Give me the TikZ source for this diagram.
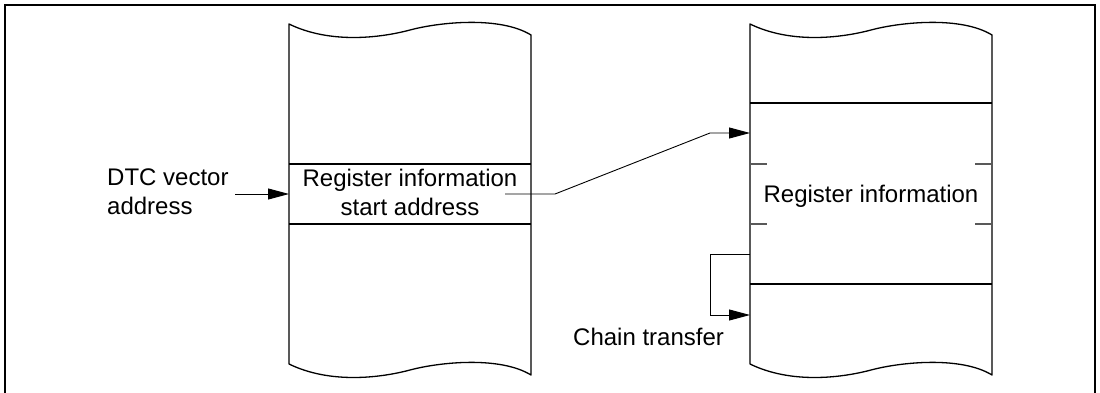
\documentclass[tikz,border=0pt]{standalone}
\usepackage{fontspec}
\setmainfont{Liberation Sans}
\usetikzlibrary{arrows.meta}
\tikzset{
  memcol/.style={line width=1.3pt, line join=round},
  sepline/.style={line width=1.2pt},
  gaptick/.style={line width=1.3pt, gray!70!black},
  ptr/.style={line width=0.9pt, -{Triangle[length=21pt,width=11pt]}},
  txt/.style={inner sep=0pt, font=\fontsize{24}{29}\selectfont}
}
\begin{document}
\begin{tikzpicture}[x=1pt, y=-1pt]
  \useasboundingbox (0,0) rectangle (1100,393);
  \draw[line width=1.6pt] (5,393) -- (5,5) -- (1095,5) -- (1095,393);
  \foreach \cx in {289,750} {
    \draw[memcol] (\cx,24) .. controls (\cx+41,44) and (\cx+91,38) .. (\cx+121,30)
      .. controls (\cx+151,22) and (\cx+211,16) .. (\cx+242,35) -- (\cx+242,375)
      .. controls (\cx+211,356) and (\cx+151,362) .. (\cx+121,370)
      .. controls (\cx+91,378) and (\cx+41,384) .. (\cx,364) -- cycle;
  }
  \draw[sepline] (289,164) -- (531,164);
  \draw[sepline] (289,224) -- (531,224);
  \draw[sepline] (750,103) -- (992,103);
  \draw[sepline] (750,284) -- (992,284);
  \foreach \ty in {164,224} {
    \draw[gaptick] (750,\ty) -- (767,\ty);
    \draw[gaptick] (975,\ty) -- (992,\ty);
  }
  \node[txt, anchor=west, align=left] (dtc) at (107,192) {DTC vector\\address};
  \node[txt, align=center] (regstart) at (410,192) {Register information\\start address};
  \node[txt, anchor=base] (reginfo) at (871,202) {Register information};
  \node[txt, anchor=base west] (chain) at (573,345) {Chain transfer};
  \coordinate (vecfrom) at (235,194);
  \coordinate (vecto) at (289,194);
  \coordinate (ptrfrom) at (505,194);
  \coordinate (ptrto) at (750,133);
  \coordinate (chainfrom) at (750,254);
  \coordinate (chainto) at (750,315);
  \draw[ptr] (vecfrom) -- (vecto);
  \draw[ptr] (ptrfrom) -- (555,194) -- (710,133) -- (ptrto);
  \draw[ptr] (chainfrom) -- (710,254) -- (710,315) -- (chainto);
\end{tikzpicture}
\end{document}
